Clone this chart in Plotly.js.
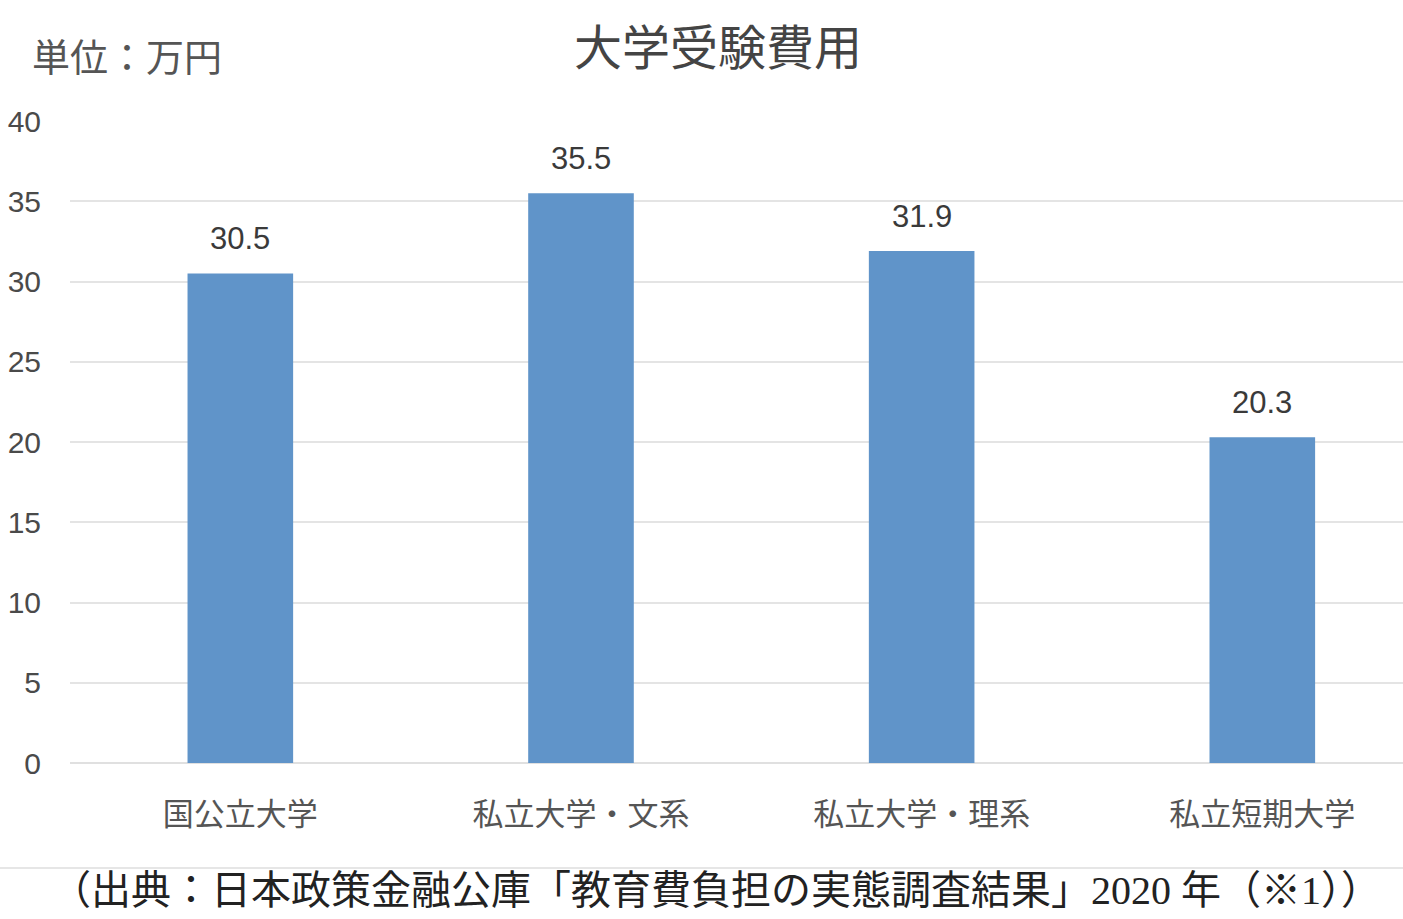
<!DOCTYPE html>
<html>
<head>
<meta charset="utf-8">
<script src="https://cdn.plot.ly/plotly-3.0.1.min.js"></script>
<style>html,body{margin:0;padding:0;background:#fff;}#chart{width:1403px;height:919px;}</style>
</head>
<body>
<div id="chart"></div>
<script>
const categories = ["国公立大学", "私立大学・文系", "私立大学・理系", "私立短期大学"];
const values = [30.5, 35.5, 31.9, 20.3];
const valueLabels = ["30.5", "35.5", "31.9", "20.3"];
const yTicks = [0, 5, 10, 15, 20, 25, 30, 35, 40];
const chartTitle = "大学受験費用";
const unitLabel = "単位：万円";
const sourceText = "（出典：日本政策金融公庫「教育費負担の実態調査結果」2020 年（※1））";

const sans = "Liberation Sans, Arial, Noto Sans CJK JP, sans-serif";
const serif = "Liberation Serif, Noto Sans CJK JP, serif";

const trace = {
  type: "bar",
  x: categories,
  y: values,
  width: 0.31,
  marker: {color: "#6094c9"},
  hoverinfo: "none"
};

const annotations = categories.map((c, i) => ({
  x: c, y: values[i], xref: "x", yref: "y",
  text: valueLabels[i], showarrow: false,
  yanchor: "bottom", yshift: 15,
  font: {family: sans, size: 31, color: "#3a3a3a"}
}));

annotations.push({
  xref: "paper", yref: "paper", x: -0.03, y: 1.098,
  xanchor: "left", yanchor: "middle", showarrow: false,
  text: unitLabel, font: {family: sans, size: 38, color: "#555"}
});
annotations.push({
  xref: "paper", yref: "paper", x: 0.4846, y: (763 - 890) / 642,
  xanchor: "center", yanchor: "middle", showarrow: false,
  text: sourceText, font: {family: serif, size: 40, color: "#222"}
});

const layout = {
  width: 1403, height: 919,
  margin: {l: 70, r: 0, t: 121, b: 156},
  paper_bgcolor: "#fff", plot_bgcolor: "#fff",
  showlegend: false,
  title: {
    text: chartTitle, xref: "container", yref: "container",
    x: 718/1403, y: 1 - 48/919, xanchor: "center", yanchor: "middle",
    font: {family: sans, size: 48, color: "#444"}
  },
  xaxis: {
    type: "category", range: [-0.5, 3.413],
    showgrid: false, zeroline: false, showline: false,
    ticks: "", ticklabelstandoff: 30,
    tickfont: {family: sans, size: 31, color: "#555"}
  },
  yaxis: {
    range: [0, 40], tickvals: yTicks, ticktext: yTicks.map(String),
    showgrid: true, gridcolor: "#e4e4e4", gridwidth: 2,
    zeroline: true, zerolinecolor: "#e0e0e0", zerolinewidth: 2,
    showline: false, ticks: "", ticklabelstandoff: 28,
    tickfont: {family: sans, size: 30, color: "#4a4a4a"}
  },
  shapes: [{
    type: "line", xref: "paper", yref: "paper",
    x0: -0.0525, x1: 1, y0: -0.1636, y1: -0.1636,
    line: {color: "#e6e6e6", width: 2}
  }],
  annotations: annotations
};

Plotly.newPlot("chart", [trace], layout, {displayModeBar: false, staticPlot: true});
</script>
</body>
</html>
